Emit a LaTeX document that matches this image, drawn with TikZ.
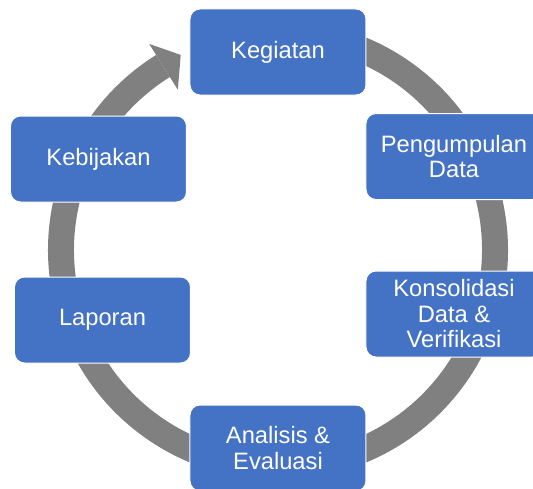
\documentclass[tikz,border=0pt]{standalone}
\usepackage{fontspec}
\setmainfont{Liberation Sans}
\usepackage{tikz}
\usetikzlibrary{positioning}
\definecolor{stepblue}{RGB}{68,114,196}
\definecolor{ringgray}{RGB}{128,128,128}

\begin{document}
\begin{tikzpicture}[x=1pt,y=1pt,font=\fontsize{23.7}{25.5}\selectfont,box/.style={draw=white,line width=1pt,fill=stepblue,text=white,rounded corners=10pt,align=center,minimum width=176pt,minimum height=86pt,inner sep=2pt}]
\useasboundingbox (-278,-238) rectangle (255,250);
\clip (-278,-238) rectangle (255,250);
\fill[ringgray] (100:230) arc[start angle=100,end angle=-238,radius=230] -- (-238:204) arc[start angle=-238,end angle=100,radius=204] -- cycle;
\fill[ringgray] (122:243) -- (116.5:218) -- (122:189) -- cycle;
\node[box] (kegiatan) at (0,198) {Kegiatan};
\node[box] (pengumpulan) at (176,93.5) {Pengumpulan\\Data};
\node[box] (konsolidasi) at (176,-64) {Konsolidasi\\Data \&\\Verifikasi};
\node[box] (analisis) at (0,-198) {Analisis \&\\Evaluasi};
\node[box] (laporan) at (-175.5,-70) {Laporan};
\node[box] (kebijakan) at (-179.5,91) {Kebijakan};
\end{tikzpicture}
\end{document}
